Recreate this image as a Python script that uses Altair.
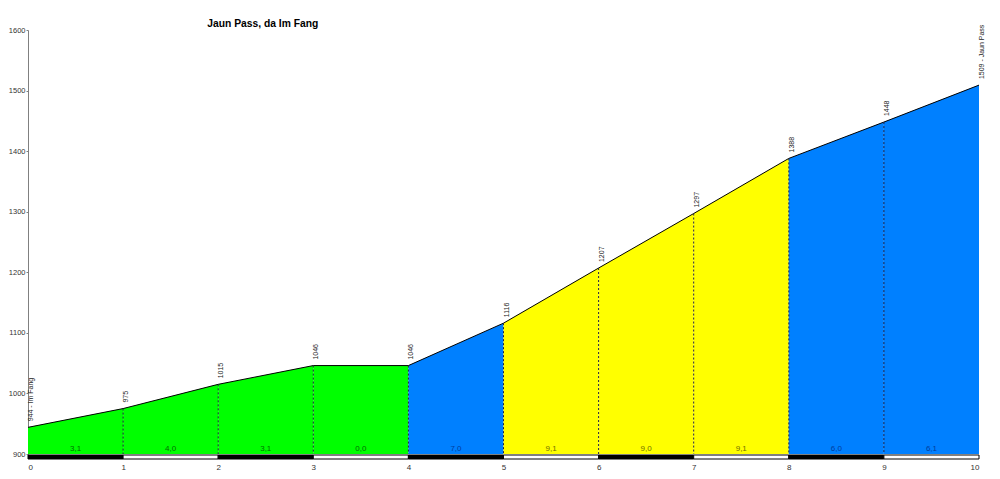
import altair as alt
import pandas as pd

km = [0, 1, 2, 3, 4, 5, 6, 7, 8, 9, 10]
elev = [944, 975, 1015, 1046, 1046, 1116, 1207, 1297, 1388, 1448, 1509]
point_labels = ["944 - Im Fang", "975", "1015", "1046", "1046", "1116", "1207",
                "1297", "1388", "1448", "1509 - Jaun Pass"]
grades = ["3,1", "4,0", "3,1", "0,0", "7,0", "9,1", "9,0", "9,1", "6,0", "6,1"]
seg_fill = ["#00ff00", "#00ff00", "#00ff00", "#00ff00", "#0080ff",
            "#ffff00", "#ffff00", "#ffff00", "#0080ff", "#0080ff"]
seg_text = ["#007000", "#007000", "#007000", "#007000", "#003c9c",
            "#707000", "#707000", "#707000", "#003c9c", "#003c9c"]
band_fill = ["black", "white"] * 5

area_rows = []
for i in range(10):
    for j in (i, i + 1):
        area_rows.append({"seg": i, "km": km[j], "elev": elev[j], "fill": seg_fill[i]})
area_df = pd.DataFrame(area_rows)

pts = pd.DataFrame({"km": km, "elev": elev, "label": point_labels})
seg = pd.DataFrame({
    "a": km[:-1], "b": km[1:], "mid": [k + 0.5 for k in km[:-1]],
    "grade": grades, "tcol": seg_text, "band": band_fill,
})
inner = pts[(pts.km > 0) & (pts.km < 10)]

xs = alt.Scale(domain=[0, 10], nice=False)
ys = alt.Scale(domain=[900, 1600], nice=False, zero=False)

area = alt.Chart(area_df).mark_area(opacity=1).encode(
    x=alt.X("km:Q", scale=xs, axis=alt.Axis(
        values=km, format="d", title=None, domain=False, ticks=False,
        labelFont="Liberation Sans", labelFontSize=8, labelColor="#333333",
        labelPadding=9, grid=False)),
    y=alt.Y("elev:Q", scale=ys, stack=None, axis=alt.Axis(
        values=[900, 1000, 1100, 1200, 1300, 1400, 1500, 1600], title=None,
        format="d",
        labelFont="Liberation Sans", labelFontSize=7.5, labelColor="#333333",
        domainColor="#808080", tickColor="#808080", tickSize=2, labelPadding=1,
        grid=False)),
    y2=alt.datum(900),
    detail="seg:N",
    color=alt.Color("fill:N", scale=None),
)

line = alt.Chart(pts).mark_line(color="black", strokeWidth=1).encode(
    x=alt.X("km:Q", scale=xs), y=alt.Y("elev:Q", scale=ys))

drops = alt.Chart(inner).mark_rule(color="#202040", strokeWidth=1, strokeDash=[2, 2]).encode(
    x=alt.X("km:Q", scale=xs), y=alt.Y("elev:Q", scale=ys), y2=alt.datum(900))

labels = alt.Chart(pts).mark_text(
    angle=270, align="left", baseline="middle", dx=6, dy=3,
    font="Liberation Sans", fontSize=7, color="#222222").encode(
    x=alt.X("km:Q", scale=xs), y=alt.Y("elev:Q", scale=ys), text="label:N")

band = alt.Chart(seg).mark_rect(stroke="black", strokeWidth=1, yOffset=1, y2Offset=5).encode(
    x=alt.X("a:Q", scale=xs), x2="b:Q",
    y=alt.datum(900), y2=alt.datum(900),
    fill=alt.Color("band:N", scale=None))

grade_txt = alt.Chart(seg).mark_text(
    baseline="bottom", dy=-1, font="Liberation Sans", fontSize=8).encode(
    x=alt.X("mid:Q", scale=xs), y=alt.datum(900), text="grade:N",
    color=alt.Color("tcol:N", scale=None))

chart = alt.layer(area, line, drops, labels, band, grade_txt).properties(
    width=951, height=424,
    background="white",
    title=alt.TitleParams("Jaun Pass, da Im Fang", anchor="start", dx=199,
                          offset=-15, baseline="bottom", font="Liberation Sans",
                          fontSize=10.3, fontWeight="bold", color="black"),
    autosize=alt.AutoSizeParams(type="none"),
    padding={"left": 20, "top": 22, "right": 13, "bottom": 17},
).configure_view(strokeWidth=0, stroke="transparent")

chart.save("out.html", embed_options={"renderer": "svg", "actions": False})
